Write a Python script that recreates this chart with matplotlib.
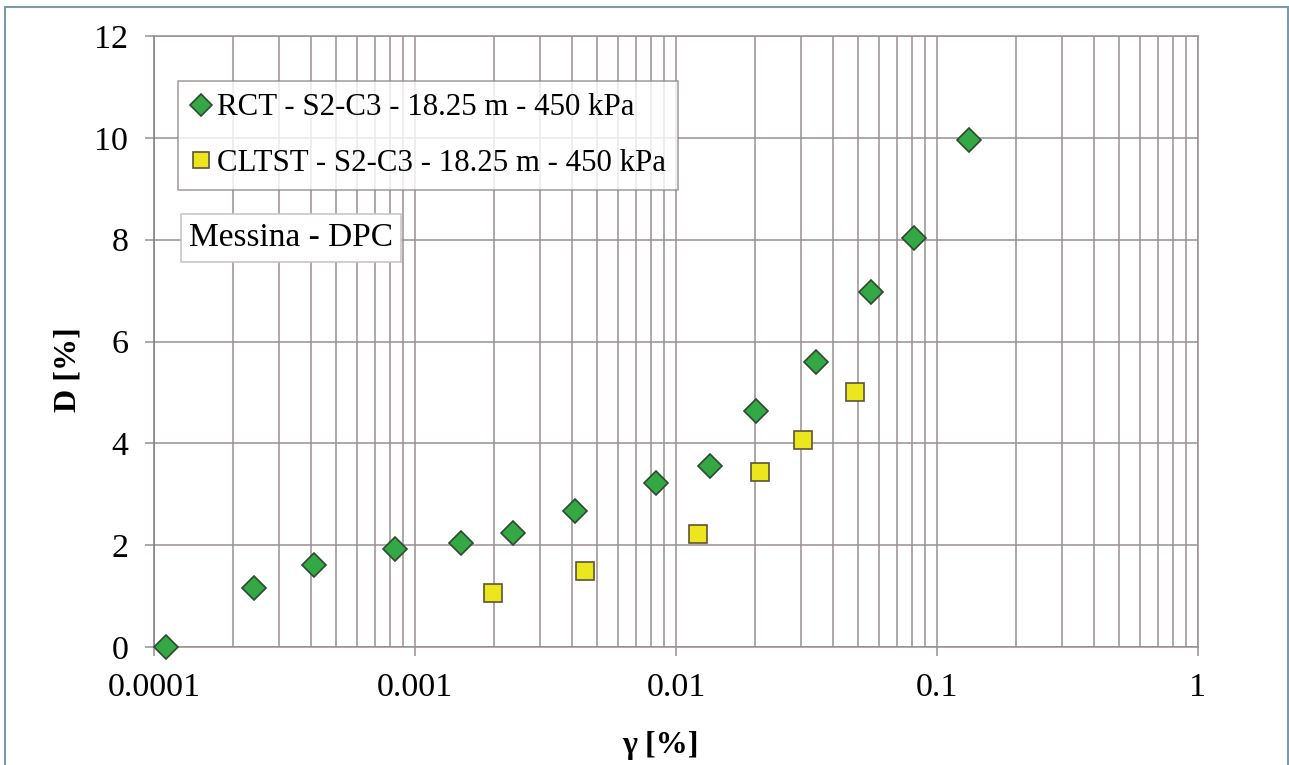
import numpy as np
import matplotlib
matplotlib.use("Agg")
import matplotlib.pyplot as plt
from matplotlib.ticker import FixedLocator, FixedFormatter, LogLocator, NullFormatter
from matplotlib.patches import Rectangle

# data
rct_gamma = [1.11e-4, 2.41e-4, 4.1e-4, 8.4e-4, 1.50e-3, 2.38e-3, 4.1e-3,
             8.36e-3, 0.01346, 0.0203, 0.0344, 0.0557, 0.0815, 0.133]
rct_d = [0.0, 1.16, 1.61, 1.92, 2.05, 2.24, 2.67, 3.23, 3.56, 4.63, 5.6,
         6.97, 8.03, 9.95]
cltst_gamma = [1.99e-3, 4.5e-3, 0.0121, 0.0209, 0.0306, 0.0486]
cltst_d = [1.07, 1.50, 2.21, 3.43, 4.06, 5.01]

rct_label = "RCT - S2-C3 - 18.25 m - 450 kPa"
cltst_label = "CLTST - S2-C3 - 18.25 m - 450 kPa"
x_ticks = [0.0001, 0.001, 0.01, 0.1, 1]
x_tick_labels = ["0.0001", "0.001", "0.01", "0.1", "1"]
y_ticks = [0, 2, 4, 6, 8, 10, 12]

plt.rcParams['font.family'] = ['Liberation Serif', 'DejaVu Serif']

W, H = 1289, 765
fig = plt.figure(figsize=(W / 100, H / 100), dpi=100)
ax = fig.add_axes([154 / W, 1 - 647 / H, (1198 - 154) / W, (647 - 36) / H])

grid_col = '#9a9090'
ax.set_xscale('log')
ax.set_xlim(1e-4, 1)
ax.set_ylim(0, 12)

ax.xaxis.set_major_locator(FixedLocator(x_ticks))
ax.xaxis.set_major_formatter(FixedFormatter(x_tick_labels))
ax.xaxis.set_minor_locator(LogLocator(base=10, subs=np.arange(2, 10)))
ax.xaxis.set_minor_formatter(NullFormatter())
ax.set_yticks(y_ticks)

ax.grid(True, which='major', axis='both', color=grid_col, lw=1.1)
ax.grid(True, which='minor', axis='x', color=grid_col, lw=1.1)
ax.set_axisbelow(True)

for s in ax.spines.values():
    s.set_color(grid_col)
    s.set_linewidth(1.1)
ax.spines['left'].set_color('#857a7a')

ax.tick_params(axis='both', which='major', direction='out', length=6.5,
               width=1.1, color=grid_col, labelsize=24.5, pad=12)
ax.tick_params(axis='x', which='minor', length=0)

ax.plot(rct_gamma, rct_d, ls='none', marker='D', ms=12, mfc='#34a844',
        mec='#2b4a30', mew=1.2, label=rct_label, clip_on=False, zorder=5)
ax.plot(cltst_gamma, cltst_d, ls='none', marker='s', ms=13, mfc='#ece61c',
        mec='#5e5438', mew=1.2, label=cltst_label, clip_on=False, zorder=5)

leg = ax.legend(loc='upper left', bbox_to_anchor=((178 - 154) / 1044, (647 - 81) / 611),
                fontsize=22.2, frameon=True, fancybox=False, borderaxespad=0,
                handlelength=0.7, handletextpad=0.15, borderpad=0.4,
                labelspacing=0.85, markerscale=0.9)
leg.get_frame().set_edgecolor('#8a8282')
leg.get_frame().set_linewidth(1.1)

ax.text((189 - 154) / 1044, (647 - 238) / 611, "Messina - DPC", transform=ax.transAxes,
        fontsize=24, ha='left', va='center', zorder=6,
        bbox=dict(boxstyle='square,pad=0.25', fc='white', ec='#c8c0c0', lw=1.1))

fig.text(68 / W, 1 - 370 / H, "D [%]", rotation=90, ha='center', va='center',
         fontsize=23, fontweight='bold')
fig.text(660 / W, 1 - 745 / H, "\u03b3 [%]", ha='center', va='center',
         fontsize=23, fontweight='bold')

fig.patches.append(Rectangle((4.5 / W, -0.02), (1287.5 - 4.5) / W, 1 - 7.3 / H + 0.02,
                             transform=fig.transFigure, fill=False,
                             ec='#7d98a8', lw=1.5))

fig.savefig("out.png", dpi=100)
